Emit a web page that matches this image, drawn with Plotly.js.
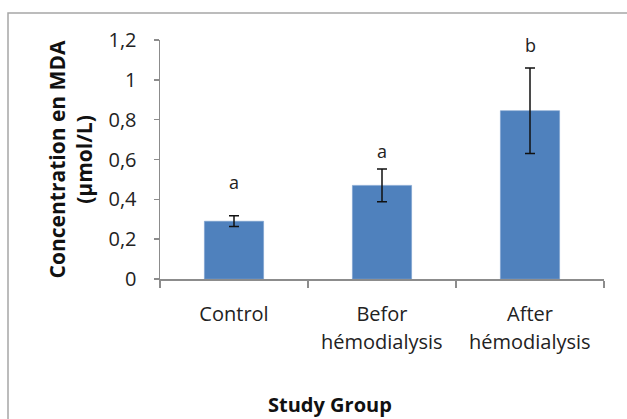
<!DOCTYPE html>
<html>
<head>
<meta charset="utf-8">
<script src="https://cdn.plot.ly/plotly-3.0.1.min.js"></script>
<style>html,body{margin:0;padding:0;background:#fff;}#chart{width:627px;height:419px;}</style>
</head>
<body>
<div id="chart"></div>
<script>
// Data
var categories = ["Control", "Befor hémodialysis", "After hémodialysis"];
var tickLine1 = ["Control", "Befor", "After"];
var tickLine2 = ["", "hémodialysis", "hémodialysis"];
var meanValues = [0.29, 0.47, 0.845];
var errorValues = [0.027, 0.082, 0.215];
var groupLetters = ["a", "a", "b"];
var letterY = [0.487, 0.643, 1.175];
var yTickVals = [0, 0.2, 0.4, 0.6, 0.8, 1, 1.2];

var FONT = "Open Sans, Lato, sans-serif";
var axisColor = "#8c8c8c";

var trace = {
  type: "bar",
  x: categories,
  y: meanValues,
  marker: {color: "#4f81bd", line: {color: "#7aa0cf", width: 0.6}},
  error_y: {type: "data", array: errorValues, visible: true, color: "#111111", thickness: 1.5, width: 5},
  hoverinfo: "none"
};

var annotations = [];
for (var i = 0; i < categories.length; i++) {
  annotations.push({
    x: categories[i], y: letterY[i], xref: "x", yref: "y",
    text: groupLetters[i], showarrow: false,
    font: {family: FONT, size: 18, color: "#222"}
  });
  if (tickLine2[i]) {
    annotations.push({
      x: categories[i], y: 0, xref: "x", yref: "paper",
      text: tickLine2[i], showarrow: false, yanchor: "middle", yshift: -62,
      font: {family: FONT, size: 20, color: "#222"}
    });
  }
}
// x-axis title
annotations.push({
  x: (330 - 160) / 444, y: 0, xref: "paper", yref: "paper", xanchor: "center", yanchor: "middle",
  yshift: -125, text: "<b>Study Group</b>", showarrow: false,
  font: {family: FONT, size: 20, color: "#111"}
});

var layout = {
  width: 627, height: 419,
  margin: {l: 160, r: 23, t: 40, b: 140, pad: 0},
  paper_bgcolor: "#ffffff", plot_bgcolor: "#ffffff",
  separators: ", ",
  showlegend: false,
  bargap: 0.6,
  font: {family: FONT, size: 20, color: "#222"},
  xaxis: {
    type: "category",
    tickvals: categories,
    ticktext: tickLine1,
    tickson: "boundaries",
    ticks: "outside", ticklen: 7, tickcolor: axisColor, tickwidth: 1.5,
    showline: true, linecolor: axisColor, linewidth: 1.5,
    showgrid: false, zeroline: false,
    ticklabelstandoff: 16,
    tickfont: {family: FONT, size: 20, color: "#222"},
    fixedrange: true
  },
  yaxis: {
    range: [0, 1.2],
    tickvals: yTickVals,
    ticks: "outside", ticklen: 5, tickcolor: axisColor, tickwidth: 1.5,
    showline: true, linecolor: axisColor, linewidth: 1.5,
    showgrid: false, zeroline: false,
    ticklabelstandoff: 13,
    tickfont: {family: FONT, size: 20, color: "#222"},
    title: {text: "<b>Concentration en MDA</b><br><b>(µmol/L)</b>", font: {family: FONT, size: 21, color: "#111"}, standoff: 10},
    fixedrange: true
  },
  annotations: annotations,
  shapes: [{
    type: "rect", xref: "paper", yref: "paper",
    x0: -152 / 444, x1: 1 + 40 / 444, y0: -1, y1: 1 + 27 / 239,
    line: {color: "#a6a6a6", width: 1.5}, fillcolor: "rgba(0,0,0,0)", layer: "below"
  }]
};

Plotly.newPlot("chart", [trace], layout, {displayModeBar: false, staticPlot: true});
</script>
</body>
</html>
